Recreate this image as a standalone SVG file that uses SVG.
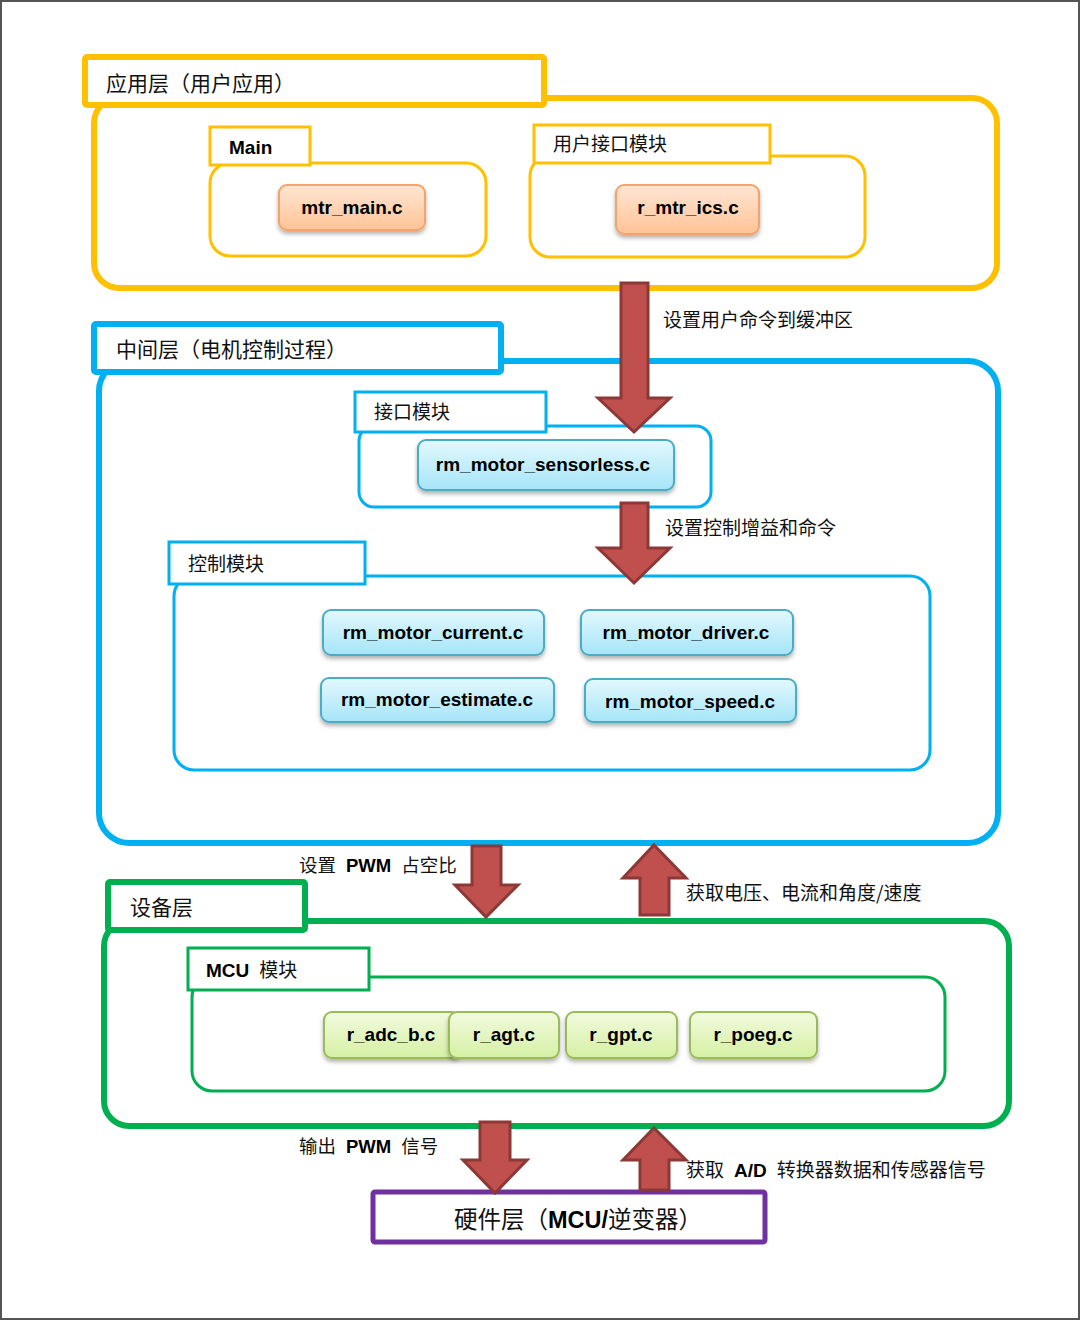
<svg xmlns="http://www.w3.org/2000/svg" width="1080" height="1320" viewBox="0 0 1080 1320">
<defs>
<linearGradient id="gOr" x1="0" y1="0" x2="0" y2="1"><stop offset="0" stop-color="#FFE6D4"/><stop offset="1" stop-color="#FFC396"/></linearGradient>
<linearGradient id="gBl" x1="0" y1="0" x2="0" y2="1"><stop offset="0" stop-color="#E3F8FE"/><stop offset="1" stop-color="#A5E5F8"/></linearGradient>
<linearGradient id="gGr" x1="0" y1="0" x2="0" y2="1"><stop offset="0" stop-color="#F2FADF"/><stop offset="1" stop-color="#D5F0A3"/></linearGradient>
<filter id="sh" x="-10%" y="-20%" width="120%" height="150%"><feDropShadow dx="0" dy="3" stdDeviation="2" flood-color="#000" flood-opacity="0.3"/></filter>
</defs>
<style>
.cn{font-family:"Noto Sans CJK SC","Noto Sans",sans-serif;fill:#111}
.b{font-family:"Liberation Sans",Arial,sans-serif;font-weight:bold;fill:#000}
.lay{fill:none;stroke-width:6}
.ttl{fill:#fff;stroke-width:6}
.sub{fill:#fff;stroke-width:3}
.cont{fill:none;stroke-width:3}
.y{stroke:#FFC000}
.c{stroke:#00B0F0}
.g{stroke:#00B050}
.nOr{fill:url(#gOr);stroke:#F4A36A;stroke-width:2;filter:url(#sh)}
.nBl{fill:url(#gBl);stroke:#4BACC6;stroke-width:2;filter:url(#sh)}
.nGr{fill:url(#gGr);stroke:#9BBB59;stroke-width:2;filter:url(#sh)}
.arr{fill:#C0504D;stroke:#8C3836;stroke-width:3;stroke-linejoin:miter}
.nt{font-size:19px;text-anchor:middle}
</style>
<rect x="1" y="1" width="1078" height="1318" fill="#fff" stroke="#555" stroke-width="2"/>

<g id="app-layer">
<rect class="lay y" x="94" y="98" width="903" height="190" rx="25"/>
<rect class="ttl y" x="85" y="57" width="459" height="48" rx="2"/>
<text class="cn" x="106" y="91" font-size="21">应用层（用户应用）</text>
</g>
<g id="main-module">
<rect class="cont y" x="210" y="163" width="276" height="93" rx="20"/>
<rect class="sub y" x="210" y="127" width="100" height="38"/>
<text class="b" x="229" y="154" font-size="19">Main</text>
</g>
<g id="mtr_main">
<rect class="nOr" x="279" y="185" width="146" height="45" rx="8"/>
<text class="b nt" x="352" y="214">mtr_main.c</text>
</g>
<g id="ui-module">
<rect class="cont y" x="530" y="156" width="335" height="101" rx="20"/>
<rect class="sub y" x="534" y="125" width="236" height="38"/>
<text class="cn" x="553" y="151" font-size="19">用户接口模块</text>
</g>
<g id="r_mtr_ics">
<rect class="nOr" x="616" y="185" width="143" height="49" rx="8"/>
<text class="b nt" x="688" y="214">r_mtr_ics.c</text>
</g>

<g id="mid-layer">
<rect class="lay c" x="99" y="361" width="899" height="482" rx="30"/>
<rect class="ttl c" x="94" y="324" width="407" height="48" rx="2"/>
<text class="cn" x="116" y="357" font-size="21">中间层（电机控制过程）</text>
</g>
<g id="if-module">
<rect class="cont c" x="359" y="426" width="352" height="81" rx="15"/>
<rect class="sub c" x="355" y="392" width="191" height="40"/>
<text class="cn" x="374" y="419" font-size="19">接口模块</text>
</g>
<g id="rm_motor_sensorless">
<rect class="nBl" x="418" y="440" width="256" height="50" rx="8"/>
<text class="b nt" x="543" y="471">rm_motor_sensorless.c</text>
</g>
<g id="ctrl-module">
<rect class="cont c" x="174" y="576" width="756" height="194" rx="20"/>
<rect class="sub c" x="169" y="542" width="196" height="42"/>
<text class="cn" x="188" y="571" font-size="19">控制模块</text>
</g>
<g id="rm_motor_current">
<rect class="nBl" x="323" y="610" width="221" height="45" rx="8"/>
<text class="b nt" x="433" y="639">rm_motor_current.c</text>
</g>
<g id="rm_motor_driver">
<rect class="nBl" x="581" y="610" width="212" height="45" rx="8"/>
<text class="b nt" x="686" y="639">rm_motor_driver.c</text>
</g>
<g id="rm_motor_estimate">
<rect class="nBl" x="321" y="678" width="233" height="44" rx="8"/>
<text class="b nt" x="437" y="706">rm_motor_estimate.c</text>
</g>
<g id="rm_motor_speed">
<rect class="nBl" x="585" y="679" width="211" height="43" rx="8"/>
<text class="b nt" x="690" y="708">rm_motor_speed.c</text>
</g>

<g id="dev-layer">
<rect class="lay g" x="104" y="921" width="905" height="205" rx="25"/>
<rect class="ttl g" x="108" y="882" width="197" height="48" rx="2"/>
<text class="cn" x="130" y="915" font-size="21">设备层</text>
</g>
<g id="mcu-module">
<rect class="cont g" x="192" y="977" width="753" height="114" rx="20"/>
<rect class="sub g" x="188" y="948" width="181" height="42"/>
<text x="206" y="977" font-size="19"><tspan class="b">MCU</tspan><tspan class="cn" dx="10">模块</tspan></text>
</g>
<g id="r_adc_b">
<rect class="nGr" x="324" y="1012" width="136" height="46" rx="8"/>
<text class="b nt" x="391" y="1041">r_adc_b.c</text>
</g>
<g id="r_agt">
<rect class="nGr" x="449" y="1012" width="110" height="46" rx="8"/>
<text class="b nt" x="504" y="1041">r_agt.c</text>
</g>
<g id="r_gpt">
<rect class="nGr" x="566" y="1012" width="111" height="46" rx="8"/>
<text class="b nt" x="621" y="1041">r_gpt.c</text>
</g>
<g id="r_poeg">
<rect class="nGr" x="690" y="1012" width="127" height="46" rx="8"/>
<text class="b nt" x="753" y="1041">r_poeg.c</text>
</g>

<g id="hw-layer">
<rect x="373" y="1192" width="392" height="50" fill="#fff" stroke="#7030A0" stroke-width="5" rx="2"/>
<text x="578" y="1228" font-size="23.5" text-anchor="middle"><tspan class="cn">硬件层（</tspan><tspan class="b">MCU/</tspan><tspan class="cn">逆变器）</tspan></text>
</g>

<g id="connectors">
<path class="arr" d="M621,283 H648 V398 H670 L634,432 L598,398 H621 Z"/>
<path class="arr" d="M621,503 H648 V548 H670 L634,583 L598,548 H621 Z"/>
<path class="arr" d="M472,846 H501 V885 H518 L486,917 L455,885 H472 Z"/>
<path class="arr" d="M654,845 L686,878 H669 V915 H640 V878 H623 Z"/>
<path class="arr" d="M480,1122 H510 V1160 H527 L495,1193 L463,1160 H480 Z"/>
<path class="arr" d="M654,1128 L686,1160 H669 V1190 H640 V1160 H623 Z"/>
<text class="cn" x="663" y="327" font-size="19">设置用户命令到缓冲区</text>
<text class="cn" x="665" y="535" font-size="19">设置控制增益和命令</text>
<text x="299" y="872" font-size="18.5"><tspan class="cn">设置</tspan><tspan class="b" dx="10">PWM</tspan><tspan class="cn" dx="10">占空比</tspan></text>
<text class="cn" x="686" y="900" font-size="19">获取电压、电流和角度/速度</text>
<text x="299" y="1153" font-size="18.5"><tspan class="cn">输出</tspan><tspan class="b" dx="10">PWM</tspan><tspan class="cn" dx="10">信号</tspan></text>
<text x="686" y="1177" font-size="19"><tspan class="cn">获取</tspan><tspan class="b" dx="10">A/D</tspan><tspan class="cn" dx="10">转换器数据和传感器信号</tspan></text>
</g>
</svg>
